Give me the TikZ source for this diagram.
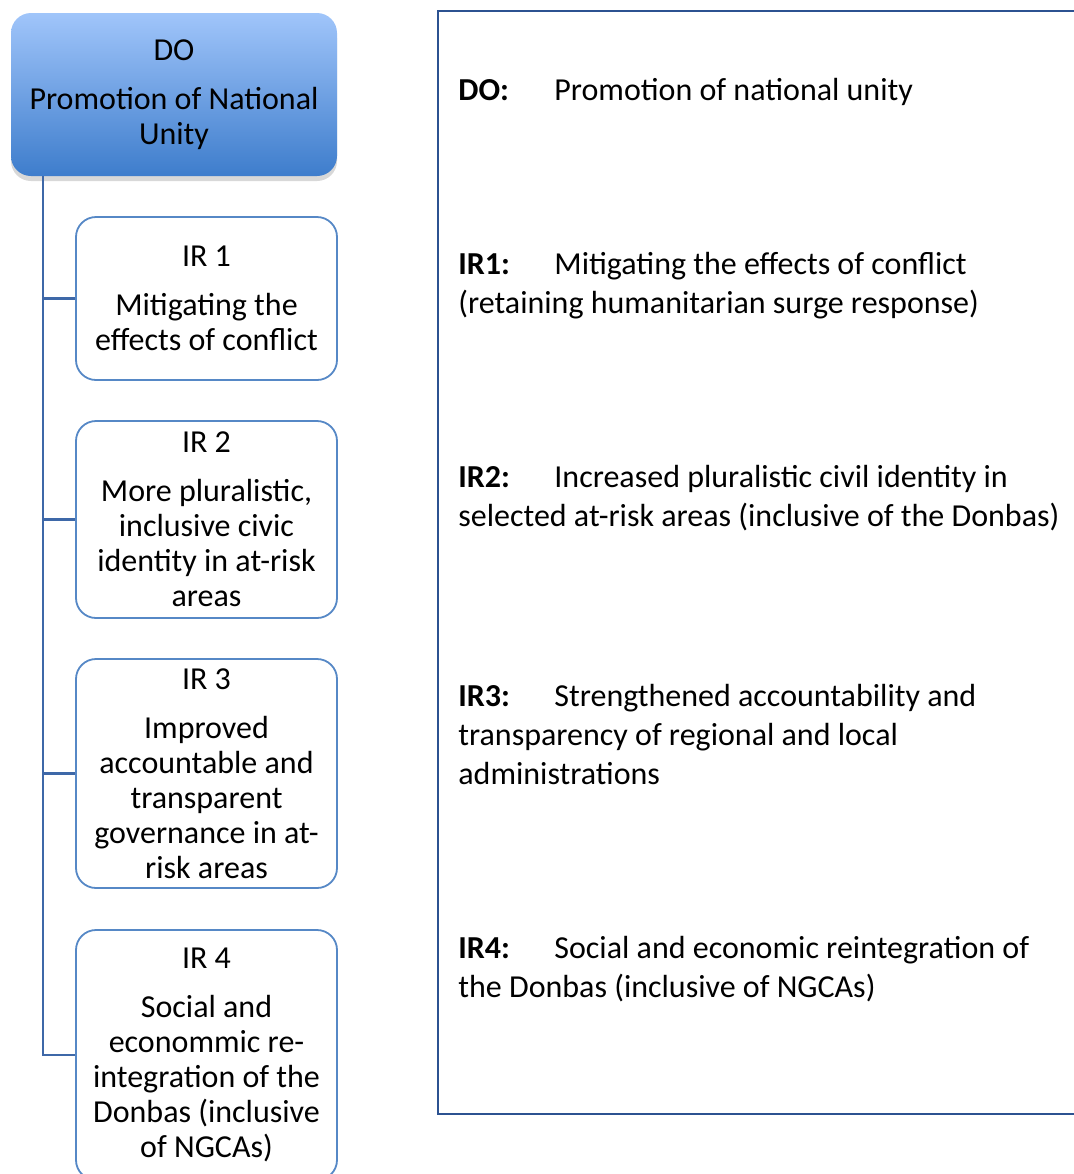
\documentclass[tikz,border=0pt]{standalone}
\usepackage{fontspec}
\setmainfont{Carlito}
\usepackage{xcolor}
\usetikzlibrary{shadows}
\definecolor{doTop}{RGB}{160,197,250}
\definecolor{doBot}{RGB}{62,125,204}
\definecolor{irLine}{RGB}{86,136,198}
\definecolor{trunkLine}{RGB}{62,104,168}
\definecolor{frameLine}{RGB}{44,82,145}

\tikzset{
  dobox/.style={rectangle, rounded corners=10pt, minimum width=163pt, minimum height=81.5pt,
    top color=doTop, bottom color=doBot, align=center, inner sep=0pt,
    font=\fontsize{16}{17.5}\selectfont,
    drop shadow={shadow xshift=0pt, shadow yshift=-2.5pt, opacity=.22, fill=black!70}},
  irbox/.style={rectangle, rounded corners=10pt, draw=irLine, line width=0.9pt, fill=white,
    minimum width=130.5pt, align=center, inner sep=0pt,
    font=\fontsize{16}{17.5}\selectfont},
  link/.style={draw=trunkLine, line width=1.2pt},
  item/.style={anchor=north west, align=left, inner sep=0pt,
    font=\fontsize{16}{19.5}\selectfont},
  tag/.style={font=\bfseries}
}

\begin{document}
\begin{tikzpicture}[x=0.5pt, y=-0.5pt]
  \useasboundingbox (0,0) rectangle (1074,1174);
  \clip (0,0) rectangle (1074,1174);

  % left column
  \node[dobox] (do) at (174,94.5) {DO\\[7pt]Promotion of National\\Unity};
  \node[irbox, minimum height=81.5pt] (ir1) at (206.5,298.5)
    {IR 1\\[7pt]Mitigating the\\effects of conflict};
  \node[irbox, minimum height=98.5pt] (ir2) at (206.5,519.5)
    {IR 2\\[7pt]More pluralistic,\\inclusive civic\\identity in at-risk\\areas};
  \node[irbox, minimum height=114.5pt] (ir3) at (206.5,773.5)
    {IR 3\\[7pt]Improved\\accountable and\\transparent\\governance in at-\\risk areas};
  \node[irbox, minimum height=125pt] (ir4) at (206.5,1055)
    {IR 4\\[7pt]Social and\\econommic re-\\integration of the\\Donbas (inclusive\\of NGCAs)};

  \coordinate (trunk) at ([xshift=-65.5pt]do.south);
  \draw[link] (trunk) |- (ir4.west);
  \foreach \i in {1,2,3}
    \draw[link] (trunk |- ir\i.west) -- (ir\i.west);

  % right column
  \draw[frameLine, line width=1.4pt] (438,11) rectangle (1100,1114);
  \node[item] (tdo) at (458,78)
    {\makebox[48pt][l]{\textbf{DO:}}Promotion of national unity};
  \node[item] (tir1) at (458,252)
    {\makebox[48pt][l]{\textbf{IR1:}}Mitigating the effects of conflict\\(retaining humanitarian surge response)};
  \node[item] (tir2) at (458,465)
    {\makebox[48pt][l]{\textbf{IR2:}}Increased pluralistic civil identity in\\selected at-risk areas (inclusive of the Donbas)};
  \node[item] (tir3) at (458,684)
    {\makebox[48pt][l]{\textbf{IR3:}}Strengthened accountability and\\transparency of regional and local\\administrations};
  \node[item] (tir4) at (458,936)
    {\makebox[48pt][l]{\textbf{IR4:}}Social and economic reintegration of\\the Donbas (inclusive of NGCAs)};
\end{tikzpicture}
\end{document}
